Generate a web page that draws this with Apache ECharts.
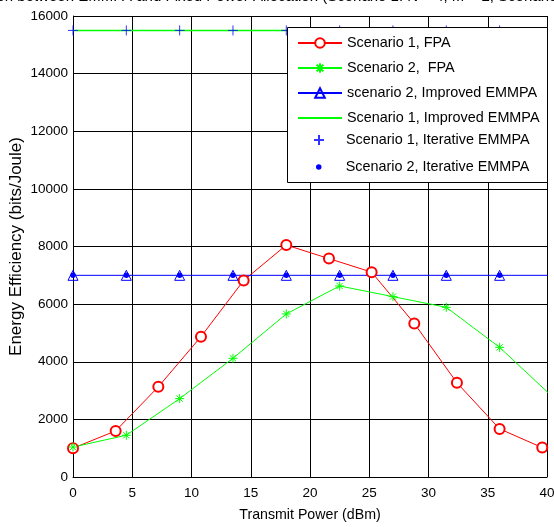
<!DOCTYPE html>
<html>
<head>
<meta charset="utf-8">
<script src="https://cdn.jsdelivr.net/npm/echarts@6/dist/echarts.min.js"></script>
<style>html,body{margin:0;padding:0;background:#fff;}#c{width:554px;height:527px;}</style>
</head>
<body>
<div id="c"></div>
<script>
const titleText = 'Comparison between EMMPA and Fixed Power Allocation (Scenario 1: N = 4, M = 2, Scenario 2: N = 8, M = 4)';
const xName = 'Transmit Power (dBm)';
const yName = 'Energy Efficiency (bits/Joule)';

const s1FpaX = [0, 3.6, 7.2, 10.8, 14.4, 18, 21.6, 25.2, 28.8, 32.4, 36, 39.6];
const s1FpaY = [1000, 1600, 3130, 4870, 6820, 8050, 7580, 7110, 5330, 3270, 1670, 1020];

const s2FpaX = [0, 4.5, 9, 13.5, 18, 22.5, 27, 31.5, 36, 40.5];
const s2FpaY = [1040, 1450, 2720, 4120, 5660, 6630, 6260, 5890, 4500, 2770];

const s2ImpX = [0, 4.5, 9, 13.5, 18, 22.5, 27, 31.5, 36, 40.5];
const s2ImpY = [7000, 7000, 7000, 7000, 7000, 7000, 7000, 7000, 7000, 7000];

const s1ImpX = [0, 40];
const s1ImpY = [15500, 15500];

const s1IterX = [0, 4.5, 9, 13.5, 18, 22.5, 27, 31.5, 36];
const s1IterY = [15500, 15500, 15500, 15500, 15500, 15500, 15500, 15500, 15500];

const s2IterX = [0, 4.5, 9, 13.5, 18, 22.5, 27, 31.5, 36];
const s2IterY = [7000, 7000, 7000, 7000, 7000, 7000, 7000, 7000, 7000];

const names = ['Scenario 1, FPA', 'Scenario 2,  FPA', 'scenario 2, Improved EMMPA', 'Scenario 1, Improved EMMPA', 'Scenario 1, Iterative EMMPA', 'Scenario 2, Iterative EMMPA'];

function zip(xs, ys) { return xs.map((x, i) => [x, ys[i]]); }

const plusPath = 'path://M5,0 L5,10 M0,5 L10,5';
const starPath = 'path://M5,0 L5,10 M0,5 L10,5 M1.5,1.5 L8.5,8.5 M1.5,8.5 L8.5,1.5';

const FONT = 'Liberation Sans';
const LEG_FONT = {fontFamily: FONT, fontSize: 14.4, color: '#000'};
const legendCommon = {
  orient: 'vertical', padding: 0, itemGap: 11, itemWidth: 44,
  textStyle: LEG_FONT, z: 10, selectedMode: false
};

const chart = echarts.init(document.getElementById('c'), null, {renderer: 'canvas'});
chart.setOption({
  animation: false,
  backgroundColor: '#fff',
  grid: {left: 73, right: 7, top: 16, bottom: 50, containLabel: false, outerBoundsMode: 'none'},
  xAxis: {
    type: 'value', min: 0, max: 40, interval: 5,
    name: xName, nameLocation: 'middle', nameGap: 31, nameMoveOverlap: false,
    nameTextStyle: {fontFamily: FONT, fontSize: 14.2, color: '#000'},
    axisLine: {show: true, onZero: false, lineStyle: {color: '#000', width: 1}},
    axisTick: {show: false},
    axisLabel: {fontFamily: FONT, fontSize: 13.5, color: '#000', margin: 9},
    splitLine: {show: true, lineStyle: {color: '#000', width: 1}}
  },
  yAxis: {
    type: 'value', min: 0, max: 16000, interval: 2000,
    name: yName, nameLocation: 'middle', nameGap: 48, nameMoveOverlap: false,
    nameTextStyle: {fontFamily: FONT, fontSize: 17, color: '#000'},
    axisLine: {show: true, lineStyle: {color: '#000', width: 1}},
    axisTick: {show: false},
    axisLabel: {fontFamily: FONT, fontSize: 13.5, color: '#000', margin: 5, formatter: v => String(v)},
    splitLine: {show: true, lineStyle: {color: '#000', width: 1}}
  },
  graphic: [
    {
      type: 'text', z: 9,
      style: {text: titleText, x: 299, y: 4, align: 'center', verticalAlign: 'bottom',
        font: '15px "Liberation Sans"', fill: '#000'}
    },
    {
      type: 'rect', z: 9,
      shape: {x: 287.5, y: 27.5, width: 260, height: 155},
      style: {fill: '#fff', stroke: '#000', lineWidth: 1}
    }
  ],
  legend: [
    Object.assign({}, legendCommon, {
      left: 297, top: 36, itemHeight: 12,
      data: [
        {name: names[0]},
        {name: names[1]},
        {name: names[2]},
        {name: names[3], itemStyle: {color: 'rgba(0,0,0,0)', borderWidth: 0, opacity: 0}}
      ]
    }),
    Object.assign({}, legendCommon, {
      left: 313, top: 133, itemHeight: 10,
      data: [names[4]]
    }),
    Object.assign({}, legendCommon, {
      left: 316, top: 160, itemHeight: 5.5,
      data: [names[5]]
    })
  ],
  series: [
    {
      name: names[0], type: 'line', data: zip(s1FpaX, s1FpaY), clip: true,
      symbol: 'emptyCircle', symbolSize: 10,
      lineStyle: {color: '#ff0000', width: 1}, itemStyle: {color: '#ff0000', borderColor: '#ff0000', borderWidth: 1}
    },
    {
      name: names[1], type: 'line', data: zip(s2FpaX, s2FpaY), clip: true,
      symbol: starPath, symbolSize: 9,
      lineStyle: {color: '#00ff00', width: 1}, itemStyle: {color: 'rgba(0,0,0,0)', borderColor: '#00ff00', borderWidth: 1}
    },
    {
      name: names[2], type: 'line', data: zip(s2ImpX, s2ImpY), clip: true,
      symbol: 'triangle', symbolSize: 10,
      lineStyle: {color: '#0000ff', width: 1}, itemStyle: {color: 'rgba(255,255,255,0)', borderColor: '#0000ff', borderWidth: 1}
    },
    {
      name: names[3], type: 'line', data: zip(s1ImpX, s1ImpY), clip: true,
      symbol: 'none', showSymbol: false,
      lineStyle: {color: '#00ff00', width: 1.5}, itemStyle: {color: '#00ff00'}
    },
    {
      name: names[4], type: 'scatter', data: zip(s1IterX, s1IterY), z: 5,
      symbol: plusPath, symbolSize: 10,
      itemStyle: {color: 'rgba(0,0,0,0)', borderColor: '#0000ff', borderWidth: 1}
    },
    {
      name: names[5], type: 'scatter', data: zip(s2IterX, s2IterY), z: 5,
      symbol: 'circle', symbolSize: 5.5,
      itemStyle: {color: '#0000ff', opacity: 1}
    }
  ]
});
</script>
</body>
</html>
